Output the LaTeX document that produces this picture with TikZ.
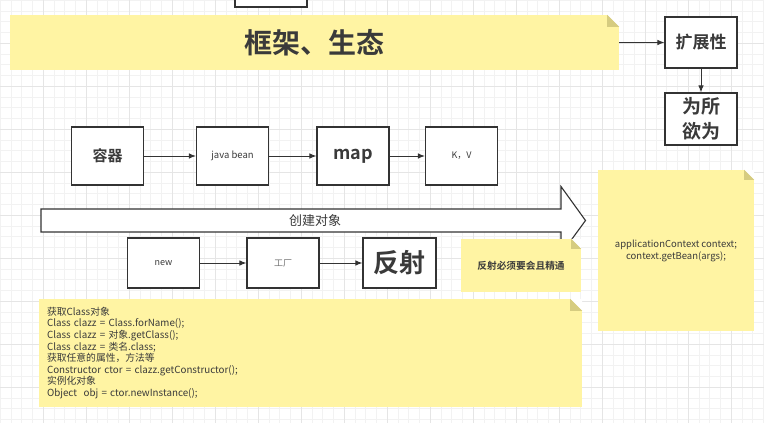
\documentclass[tikz,border=0pt]{standalone}
\usepackage{fontspec}
\setmainfont{Noto Sans CJK SC}[BoldFont={Noto Sans CJK SC Bold}]
\usetikzlibrary{arrows,arrows.meta,shapes}
\definecolor{notefill}{HTML}{FFF4A3}
\definecolor{notefold}{HTML}{D6CC80}
\definecolor{linegray}{HTML}{333333}
\definecolor{textgray}{HTML}{3A3A3A}
\tikzstyle{box}=[rectangle, draw=linegray
,line width=1.1pt
,fill=white
,minimum width=72pt
,inner sep=0pt
,align=center
,text=textgray
]
\tikzstyle{note}=[rectangle, fill=notefill, inner sep=0pt, align=center, text=textgray]
\tikzstyle{edge} = [draw=linegray, line width=1pt, -{Latex[length=7pt,width=5.5pt]}]
\tikzstyle{gridminor} = [draw=black!5, line width=0.4pt]
\tikzstyle{gridmajor} = [draw=black!10, line width=0.5pt]
\newcommand{\notefold}[2]{%
  \fill[white] ([xshift=-#2pt]#1.north east) -- (#1.north east) -- ([yshift=-#2pt]#1.north east) -- cycle;
  \fill[notefold] ([xshift=-#2pt]#1.north east) -- ([yshift=-#2pt]#1.north east) -- ([xshift=-#2pt,yshift=-#2pt]#1.north east) -- cycle;}

\begin{document}
\begin{tikzpicture}[x=1pt,y=-1pt]
    \useasboundingbox (0,0) rectangle (764,423);
    \clip (0,0) rectangle (764,423);
    % background grid
    \fill[white] (0,0) rectangle (764,423);
    \foreach \i in {0,...,71} {
        \draw[gridminor] (\i*10.75,0) -- (\i*10.75,423);
        \draw[gridminor] (0,\i*10.75) -- (764,\i*10.75);
    }
    \foreach \i in {1,...,17} {
        \draw[gridmajor] (\i*43,0) -- (\i*43,423);
        \draw[gridmajor] (0,\i*43) -- (764,\i*43);
    }

    % top row
    \node[box, minimum height=24pt] (topbox) at (271,-5) {};
    \node[note, minimum width=609pt, minimum height=55pt, font=\bfseries\fontsize{28}{30}\selectfont] (frame) at (314.5,42.5) {框架、生态};
    \notefold{frame}{12}
    \node[box, minimum height=51pt, font=\bfseries\fontsize{17}{20}\selectfont] (extend) at (701,42.5) {扩展性};
    \node[box, minimum height=52pt, font=\bfseries\fontsize{19}{25}\selectfont] (freely) at (701,119) {为所\\欲为};

    % container row
    \node[box, minimum height=58pt, font=\bfseries\fontsize{15}{18}\selectfont] (container) at (107.5,156) {容器};
    \node[box, minimum height=58pt, font=\fontsize{9.5}{11}\selectfont] (javabean) at (232.5,156) {java bean};
    \node[box, minimum height=58pt, font=\bfseries\fontsize{18}{20}\selectfont] (map) at (353,156) {map};
    \node[box, minimum height=58pt, font=\fontsize{9}{11}\selectfont] (kv) at (461.5,156) {K，V};

    % create objects
    \draw[draw=linegray, line width=1.1pt, fill=white] (41,209) -- (561,209) -- (561,186.5) -- (585.5,220.5)
        -- (561,254) -- (561,232) -- (41,232) -- cycle;
    \node[font=\fontsize{13}{15}\selectfont, text=textgray] (create) at (315,220.5) {创建对象};

    % reflection row
    \node[box, minimum height=50pt, font=\fontsize{9}{11}\selectfont] (new) at (163.5,263) {new};
    \node[box, minimum height=50pt, font=\fontsize{9}{11}\selectfont, text=black!55] (factory) at (283,263) {工厂};
    \node[box, minimum height=50pt, minimum width=73pt, font=\bfseries\fontsize{26}{28}\selectfont] (reflect) at (399.5,263) {反射};
    \node[note, minimum width=120pt, minimum height=53pt, font=\bfseries\fontsize{9.7}{12}\selectfont] (master) at (521,265.5) {反射必须要会且精通};
    \notefold{master}{10}

    % notes
    \node[note, minimum width=543pt, minimum height=108pt, text width=527pt, align=left, font=\fontsize{9.8}{11.6}\selectfont] (code) at (310.5,353) {获取Class对象\\
        Class clazz = Class.forName();\\
        Class clazz = 对象.getClass();\\
        Class clazz = 类名.class;\\
        获取任意的属性，方法等\\
        Constructor ctor = clazz.getConstructor();\\
        实例化对象\\
        Object~~obj = ctor.newInstance();};
    \notefold{code}{12}
    \node[note, minimum width=156pt, minimum height=161pt, font=\fontsize{9.5}{12}\selectfont] (context) at (676,250.5) {applicationContext context;\\context.getBean(args);};
    \notefold{context}{10}

    % Connect boxes with edges
    \path[edge] (frame.east) -- (extend.west);
    \path[edge] (extend) -- (freely);
    \foreach \source/ \dest in {container/javabean, javabean/map, map/kv, new/factory, factory/reflect}
        \path[edge] (\source) -- (\dest) ;
\end{tikzpicture}
\end{document}
